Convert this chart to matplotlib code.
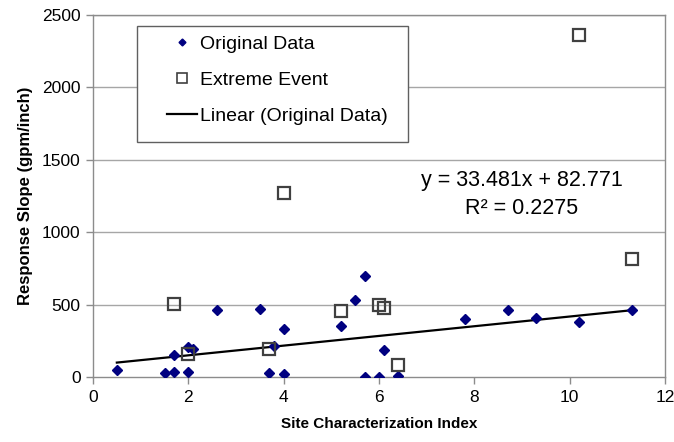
import matplotlib
matplotlib.use("Agg")
import matplotlib.pyplot as plt
from matplotlib.patches import Rectangle
from matplotlib.lines import Line2D
import numpy as np

plt.rcParams['font.family'] = ['Liberation Sans', 'DejaVu Sans']

# original data (diamonds)
orig_x = [0.5, 1.5, 1.7, 1.7, 2.0, 2.0, 2.1, 2.6, 3.5, 3.7, 3.8, 4.0, 4.0,
          5.2, 5.5, 5.7, 5.7, 6.0, 6.1, 6.4, 7.8, 8.7, 9.3, 10.2, 11.3]
orig_y = [50, 30, 35, 150, 35, 205, 190, 460, 470, 30, 215, 330, 20,
          350, 530, 695, 0, 0, 185, 5, 400, 465, 410, 380, 460]

# extreme events (open squares)
extreme_x = [1.7, 2.0, 3.7, 4.0, 5.2, 6.0, 6.1, 6.4, 10.2, 11.3]
extreme_y = [505, 160, 190, 1270, 455, 497, 475, 80, 2362, 818]

# linear fit reported on the chart
slope = 33.481
intercept = 82.771
r2 = 0.2275

x_ticks = [0, 2, 4, 6, 8, 10, 12]
y_ticks = [0, 500, 1000, 1500, 2000, 2500]

fig = plt.figure(figsize=(6.74, 4.42), dpi=100)
ax = fig.add_axes([93 / 674, 65 / 442, 572 / 674, 362 / 442])

gray = '#8c8c8c'
for y in y_ticks[1:]:
    ax.axhline(y, color='#a6a6a6', lw=1, zorder=0)

trend_x = np.array([min(orig_x), max(orig_x)])
trend_y = slope * trend_x + intercept

ax.plot(orig_x, orig_y, 'D', color='#000080', ms=5.2, mec='#000080', zorder=3,
        label='Original Data')
ax.plot(extreme_x, extreme_y, 's', mfc='none', mec='#404040', mew=1.6, ms=9,
        zorder=4, label='Extreme Event')
ax.plot(trend_x, trend_y, color='black', lw=1.6, zorder=2,
        label='Linear (Original Data)')

ax.set_xlim(0, 12)
ax.set_ylim(0, 2500)
ax.set_xticks(x_ticks)
ax.set_yticks(y_ticks)
ax.tick_params(axis='both', direction='out', length=5, width=1, color=gray,
               labelsize=12.5, pad=4)
for s in ax.spines.values():
    s.set_color(gray)
    s.set_linewidth(1)

ax.set_xlabel('Site Characterization Index', fontsize=11, fontweight='bold',
              labelpad=9)
ax.set_ylabel('Response Slope (gpm/inch)', fontsize=12, fontweight='bold',
              labelpad=6)

# legend box drawn as a white rectangle, legend itself frameless
box = Rectangle((0.0768, 0.649), 0.4747, 0.3206, transform=ax.transAxes,
                facecolor='white', edgecolor='#606060', lw=1, zorder=5)
ax.add_patch(box)
handles = [
    Line2D([], [], marker='D', ls='none', color='#000080', ms=3.5),
    Line2D([], [], marker='s', ls='none', mfc='none', mec='#404040', mew=1.2, ms=7),
    Line2D([], [], color='black', lw=1.6),
]
labels = ['Original Data', 'Extreme Event', 'Linear (Original Data)']
leg = ax.legend(handles, labels, loc='upper left',
                bbox_to_anchor=(0.129, 0.945), frameon=False, fontsize=14,
                borderpad=0, borderaxespad=0, handlelength=1.55,
                handletextpad=0.15, labelspacing=0.95)
leg.set_zorder(6)

ax.text(9.0, 1260, 'y = 33.481x + 82.771\nR\u00b2 = ' + str(r2), ha='center',
        va='center', fontsize=15.5, linespacing=1.45, zorder=6)

fig.savefig('out.png', dpi=100)
